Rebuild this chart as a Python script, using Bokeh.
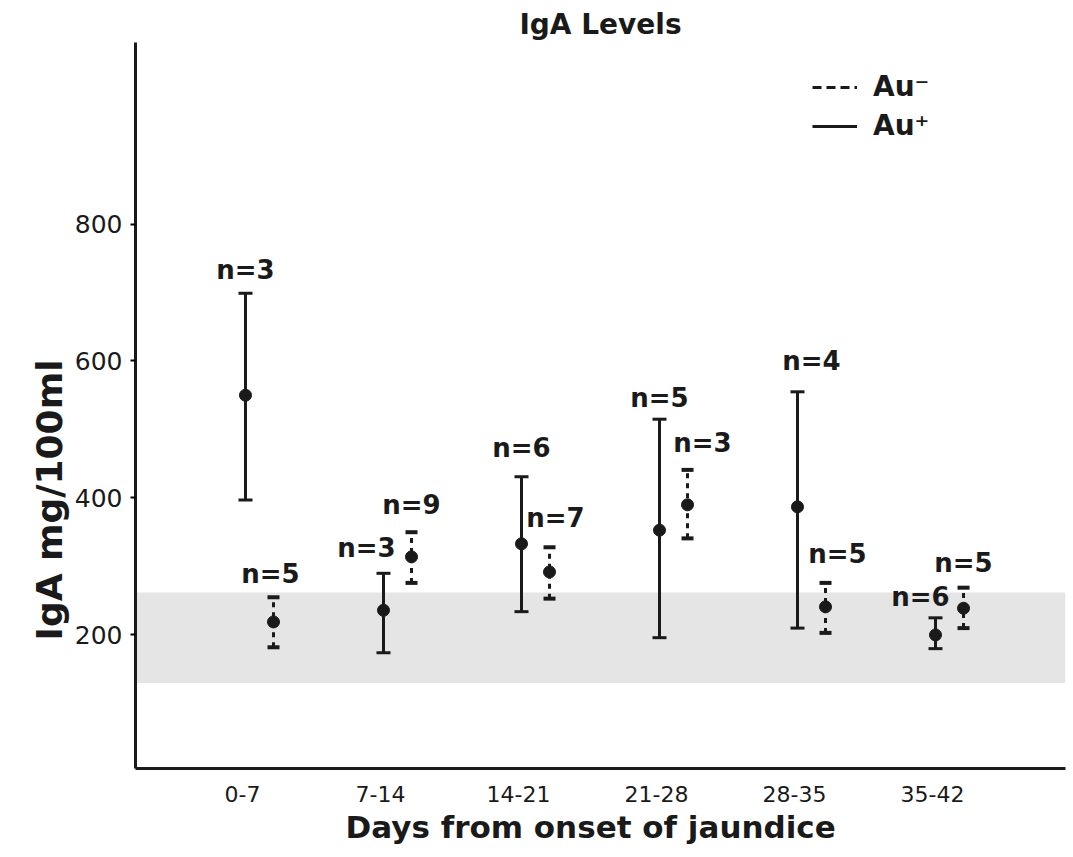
from bokeh.plotting import figure
from bokeh.models import (ColumnDataSource, Whisker, TeeHead, Range1d, FixedTicker,
                          BoxAnnotation, Legend, LegendItem, LabelSet, Title)
from bokeh.core.properties import value
from bokeh.embed import file_html
from bokeh.resources import INLINE

# ---------------- data ----------------
categories = ["0-7", "7-14", "14-21", "21-28", "28-35", "35-42"]

au_pos_mean = [550, 236, 333, 353, 387, 200]
au_pos_upper = [699, 290, 431, 515, 555, 225]
au_pos_lower = [397, 174, 234, 196, 210, 180]
au_pos_n = [3, 3, 6, 5, 4, 6]

au_neg_mean = [219, 314, 292, 390, 241, 239]
au_neg_upper = [255, 350, 328, 441, 276, 269]
au_neg_lower = [182, 276, 253, 341, 203, 210]
au_neg_n = [5, 9, 7, 3, 5, 5]

normal_low = 130
normal_high = 262

y_ticks = [200, 400, 600, 800]

# ---------------- layout / style ----------------
FONT = "DejaVu Sans"
INK = "#1a1a1a"
pos_offset = 0.022
neg_offset = 0.225
pos_label_dx = [0, -17, 0, 0, 14, -15]
pos_label_dy = [8, 10, 14, 6, 16, 6]
neg_label_dx = [-3, 0, 6, 15, 12, 0]
neg_label_dy = [8, 12, 14, 12, 14, 10]

p = figure(width=1073, height=857, output_backend="svg", toolbar_location=None,
           x_range=Range1d(-0.775, 5.964), y_range=Range1d(5, 1065),
           min_border_left=135, min_border_right=8, min_border_top=42, min_border_bottom=89)
p.outline_line_color = None
p.xgrid.visible = False
p.ygrid.visible = False
p.background_fill_color = "white"
p.border_fill_color = "white"

p.title.text = "IgA Levels"
p.title.align = "center"
p.title.standoff = 4
p.title.text_font = FONT
p.title.text_font_size = "28px"
p.title.text_font_style = "bold"
p.title.text_color = INK

# normal range band
p.add_layout(BoxAnnotation(bottom=normal_low, top=normal_high, fill_color="#e5e5e5",
                           fill_alpha=1.0, line_color=None, level="underlay"))

idx = list(range(len(categories)))
src_pos = ColumnDataSource(dict(
    x=[i + pos_offset for i in idx], mean=au_pos_mean, upper=au_pos_upper, lower=au_pos_lower,
    label=[f"n={n}" for n in au_pos_n], dx=pos_label_dx, dy=pos_label_dy))
src_neg = ColumnDataSource(dict(
    x=[i + neg_offset for i in idx], mean=au_neg_mean, upper=au_neg_upper, lower=au_neg_lower,
    label=[f"n={n}" for n in au_neg_n], dx=neg_label_dx, dy=neg_label_dy))

w_pos = Whisker(source=src_pos, base="x", upper="upper", lower="lower", dimension="height",
                line_color=INK, line_width=3,
                upper_head=TeeHead(size=14, line_width=3, line_color=INK),
                lower_head=TeeHead(size=14, line_width=3, line_color=INK))
w_neg = Whisker(source=src_neg, base="x", upper="upper", lower="lower", dimension="height",
                line_color=INK, line_width=3, line_dash="5 5",
                upper_head=TeeHead(size=12, line_width=4, line_color=INK),
                lower_head=TeeHead(size=12, line_width=4, line_color=INK))
p.add_layout(w_pos)
p.add_layout(w_neg)

p.scatter("x", "mean", source=src_pos, size=12, color=INK)
p.scatter("x", "mean", source=src_neg, size=12, color=INK)

for src in (src_pos, src_neg):
    ls = LabelSet(x="x", y="upper", text="label", source=src, x_offset="dx", y_offset="dy",
                  text_align="center", text_baseline="bottom", text_font=value(FONT),
                  text_font_size="26px", text_font_style="bold", text_color=INK)
    p.add_layout(ls)

# legend
r_dash = p.line([0, 0], [-100, -100], line_dash="9 5", line_width=3, line_color=INK)
r_solid = p.line([0, 0], [-100, -100], line_width=3, line_color=INK)
legend = Legend(items=[LegendItem(label="Au\u207b", renderers=[r_dash]),
                       LegendItem(label="Au\u207a", renderers=[r_solid])],
                location=(677, 626), orientation="vertical",
                label_text_font=FONT, label_text_font_size="28px", label_text_font_style="bold",
                label_text_color=INK, glyph_width=45, glyph_height=26,
                label_standoff=16, spacing=6, padding=0, margin=0,
                border_line_color=None, background_fill_alpha=0)
p.add_layout(legend)

# axes
p.xaxis.ticker = FixedTicker(ticks=idx)
p.xaxis.major_label_overrides = {i: c for i, c in zip(idx, categories)}
p.xaxis.major_tick_line_color = None
p.xaxis.minor_tick_line_color = None
p.xaxis.axis_line_width = 3
p.xaxis.axis_line_color = INK
p.xaxis.major_label_standoff = 11
p.xaxis.major_label_text_font = FONT
p.xaxis.major_label_text_font_size = "22px"
p.xaxis.major_label_text_color = INK

p.yaxis.ticker = FixedTicker(ticks=y_ticks)
p.yaxis.minor_tick_line_color = None
p.yaxis.major_tick_in = 0
p.yaxis.major_tick_out = 5
p.yaxis.major_tick_line_width = 2
p.yaxis.axis_line_width = 3
p.yaxis.axis_line_color = INK
p.yaxis.major_label_standoff = 8
p.yaxis.major_label_text_font = FONT
p.yaxis.major_label_text_font_size = "25px"
p.yaxis.major_label_text_color = INK

# axis titles
ytitle = Title(text="IgA mg/100ml", align="left", offset=128, text_font=FONT,
               text_font_size="36px", text_font_style="bold", text_color=INK, standoff=4)
p.add_layout(ytitle, "left")
xtitle = Title(text="Days from onset of jaundice", align="left", offset=210, text_font=FONT,
               text_font_size="31px", text_font_style="bold", text_color=INK, standoff=4)
p.add_layout(xtitle, "below")

open("out.html", "w").write(file_html(p, INLINE))
